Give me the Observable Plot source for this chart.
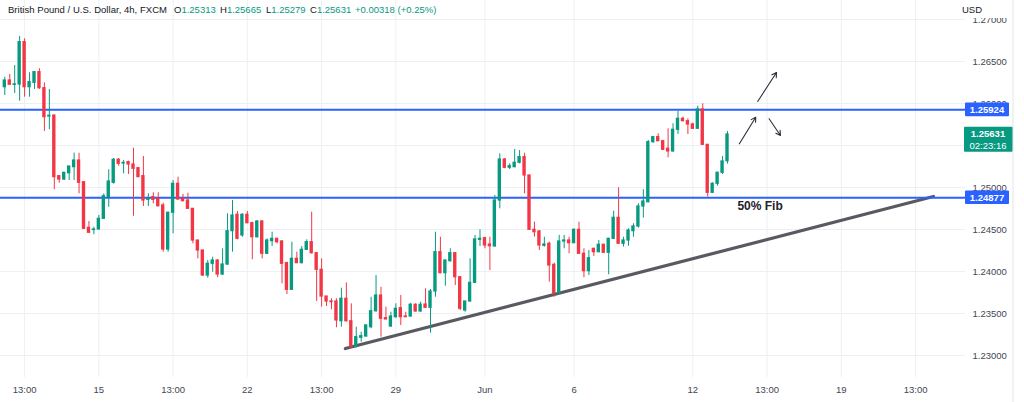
<!DOCTYPE html>
<html><head><meta charset="utf-8">
<script src="https://cdn.jsdelivr.net/npm/d3@7"></script>
<script src="https://cdn.jsdelivr.net/npm/@observablehq/plot@0.6"></script>
<style>
body{margin:0;background:#fff;font-family:"Liberation Sans",Arial,sans-serif;}
#wrap{position:relative;width:1024px;height:402px;overflow:hidden}
.hp{position:absolute;top:4px;font-size:9.5px;line-height:12px;color:#131722;white-space:nowrap}
.hp .v{color:#089981}
</style></head><body>
<div id="wrap"></div>
<script>
// ---- data (4h candles, GBP/USD FXCM) ----
const open = [1.26194,1.26274,1.26222,1.26226,1.26730,1.26194,1.26246,1.26373,1.26182,1.25845,
1.25857,1.25135,1.25095,1.25170,1.25242,1.25321,1.25063,1.24520,1.24494,1.24500,
1.24627,1.24885,1.25056,1.25330,1.25286,1.25302,1.25274,1.25230,1.25135,1.24853,
1.24885,1.24865,1.24786,1.24262,1.24699,1.25044,1.24865,1.24845,1.24746,1.24369,
1.24250,1.23952,1.24092,1.24131,1.23964,1.24083,1.24480,1.24675,1.24429,1.24675,
1.24575,1.24408,1.24595,1.24211,1.24361,1.24389,1.24357,1.24099,1.23782,1.24151,
1.24099,1.24258,1.24349,1.24218,1.24020,1.23702,1.23643,1.23643,1.23408,1.23675,
1.23408,1.23099,1.23211,1.23226,1.23337,1.23527,1.23714,1.23444,1.23345,1.23456,
1.23563,1.23464,1.23464,1.23604,1.23524,1.23607,1.23568,1.23762,1.24230,1.23980,
1.24123,1.24218,1.23932,1.23536,1.23643,1.23865,1.24377,1.24396,1.24321,1.24298,
1.24845,1.25333,1.25235,1.25242,1.25294,1.25361,1.25143,1.24496,1.24476,1.24306,
1.24330,1.24079,1.23742,1.24357,1.24369,1.24337,1.24496,1.24211,1.24004,1.24270,
1.24230,1.24318,1.24223,1.24389,1.24639,1.24330,1.24369,1.24480,1.24536,1.24774,
1.24825,1.25539,1.25599,1.25551,1.25461,1.25429,1.25687,1.25818,1.25789,1.25750,
1.25699,1.25929,1.25508,1.24937,1.25044,1.25175,1.25313];
const high = [1.26313,1.26345,1.26452,1.26798,1.26770,1.26365,1.26378,1.26413,1.26246,1.26167,
1.25857,1.25135,1.25175,1.25250,1.25408,1.25408,1.25063,1.24595,1.24527,1.24667,
1.24925,1.25211,1.25345,1.25345,1.25321,1.25313,1.25468,1.25230,1.25369,1.24925,
1.24937,1.24937,1.24813,1.24706,1.25083,1.25123,1.24917,1.24932,1.24746,1.24369,
1.24250,1.24131,1.24170,1.24140,1.24270,1.24687,1.24845,1.24714,1.24687,1.24714,
1.24587,1.24607,1.24607,1.24389,1.24468,1.24389,1.24369,1.24111,1.24349,1.24230,
1.24298,1.24377,1.24706,1.24218,1.24151,1.23702,1.23675,1.23675,1.23801,1.23865,
1.23615,1.23337,1.23277,1.23365,1.23694,1.23952,1.23813,1.23575,1.23515,1.23615,
1.23714,1.23515,1.23623,1.23615,1.23635,1.23794,1.23786,1.24468,1.24408,1.24135,
1.24270,1.24226,1.23932,1.23643,1.24151,1.24429,1.24496,1.24408,1.24408,1.24905,
1.25401,1.25345,1.25282,1.25452,1.25440,1.25408,1.25143,1.24587,1.24488,1.24408,
1.24349,1.24099,1.24429,1.24429,1.24408,1.24508,1.24587,1.24270,1.24250,1.24277,
1.24369,1.24325,1.24396,1.24718,1.24996,1.24408,1.24508,1.24568,1.24806,1.24973,
1.25560,1.25607,1.25639,1.25560,1.25699,1.25758,1.25905,1.25837,1.25818,1.25768,
1.25968,1.25996,1.25508,1.25056,1.25183,1.25369,1.25665];
const low = [1.26095,1.26220,1.26119,1.26027,1.26075,1.26075,1.26167,1.26167,1.25667,1.25687,
1.24973,1.25051,1.25083,1.25083,1.25083,1.24925,1.24508,1.24455,1.24437,1.24497,
1.24627,1.24765,1.25040,1.25254,1.25163,1.25155,1.24658,1.25120,1.24774,1.24774,
1.24806,1.24770,1.24230,1.24230,1.24449,1.24850,1.24830,1.24740,1.24330,1.24151,
1.23940,1.23920,1.23992,1.23925,1.23952,1.24071,1.24230,1.24377,1.24408,1.24568,
1.24139,1.24400,1.24151,1.24202,1.24298,1.24330,1.23854,1.23726,1.23774,1.24095,
1.24092,1.24250,1.24206,1.23643,1.23575,1.23583,1.23544,1.23330,1.23337,1.23396,
1.23092,1.23095,1.23158,1.23218,1.23318,1.23515,1.23218,1.23425,1.23337,1.23444,
1.23357,1.23452,1.23456,1.23515,1.23515,1.23565,1.23265,1.23694,1.23973,1.23825,
1.24111,1.23833,1.23536,1.23515,1.23635,1.23857,1.24298,1.24270,1.24012,1.24290,
1.24746,1.25223,1.25214,1.25235,1.25282,1.24925,1.24488,1.24408,1.24250,1.24290,
1.23873,1.23694,1.23734,1.24270,1.24211,1.24333,1.24202,1.23925,1.23952,1.24179,
1.24222,1.24214,1.23961,1.24381,1.24325,1.24290,1.24301,1.24408,1.24516,1.24635,
1.24817,1.25528,1.25547,1.25440,1.25354,1.25421,1.25631,1.25782,1.25631,1.25691,
1.25691,1.25500,1.24885,1.24929,1.25016,1.25155,1.25279];
const close = [1.26274,1.26223,1.26228,1.26730,1.26194,1.26254,1.26373,1.26182,1.25837,1.25854,
1.25123,1.25095,1.25175,1.25250,1.25321,1.25056,1.24508,1.24461,1.24500,1.24627,
1.24896,1.25071,1.25330,1.25282,1.25292,1.25274,1.25223,1.25123,1.24845,1.24861,
1.24853,1.24777,1.24262,1.24699,1.25044,1.24857,1.24837,1.24746,1.24369,1.24250,
1.23952,1.24092,1.24131,1.23964,1.24083,1.24480,1.24667,1.24389,1.24675,1.24575,
1.24408,1.24595,1.24211,1.24369,1.24389,1.24349,1.24092,1.23782,1.24151,1.24099,
1.24258,1.24349,1.24218,1.24020,1.23702,1.23643,1.23635,1.23417,1.23675,1.23408,
1.23099,1.23218,1.23230,1.23357,1.23527,1.23714,1.23437,1.23429,1.23464,1.23556,
1.23456,1.23456,1.23604,1.23524,1.23604,1.23568,1.23762,1.24230,1.23980,1.24131,
1.24218,1.23932,1.23556,1.23643,1.23865,1.24381,1.24389,1.24310,1.24301,1.24845,
1.25333,1.25235,1.25254,1.25294,1.25361,1.25143,1.24496,1.24468,1.24310,1.24321,
1.24071,1.23742,1.24357,1.24369,1.24337,1.24496,1.24211,1.24004,1.24158,1.24230,
1.24318,1.24223,1.24389,1.24639,1.24330,1.24369,1.24488,1.24536,1.24774,1.24833,
1.25539,1.25599,1.25551,1.25449,1.25429,1.25687,1.25818,1.25789,1.25750,1.25699,
1.25929,1.25508,1.24937,1.25044,1.25175,1.25310,1.25631];

const priceTicks = [1.23, 1.235, 1.24, 1.245, 1.25, 1.255, 1.26, 1.265, 1.27];
const hiddenTickLabels = [1.255]; // covered by the last-price box in the original
const timeTickIdx = [4, 19, 34, 49, 64, 79, 97, 115, 139, 154, 169, 184];
const timeTickLabels = ["13:00", "15", "13:00", "22", "13:00", "29", "Jun", "6", "12", "13:00", "19", "13:00"];
const levelValues = [1.25924, 1.24877];
const levelLabels = ["1.25924", "1.24877"];
const trendX = [68.8, 187.6];
const trendY = [1.23083, 1.24893];
const arrowX1 = [148.4, 152.1, 154.4];
const arrowY1 = [1.25520, 1.26024, 1.25818];
const arrowX2 = [151.7, 155.9, 156.7];
const arrowY2 = [1.25837, 1.26369, 1.25619];
const noteText = ["50% Fib"];
const noteX = [148.0];
const noteY = [1.24774];
const lastPrice = 1.25631;
const countdown = "02:23:16";
const headerTitle = "British Pound / U.S. Dollar, 4h, FXCM";
const headerKeys = ["O", "H", "L", "C", ""];
const headerVals = ["1.25313", "1.25665", "1.25279", "1.25631", "+0.00318 (+0.25%)"];

// ---- build ----
const GREEN = "#089981", RED = "#f23645";
const candles = open.map((o, i) => ({i, o, h: high[i], l: low[i], c: close[i]}));
const col = d => d.c >= d.o ? GREEN : RED;
const tickMap = new Map(timeTickIdx.map((t, k) => [t, timeTickLabels[k]]));
const arrows = arrowX1.map((x, k) => ({x1: x, y1: arrowY1[k], x2: arrowX2[k], y2: arrowY2[k]}));
const notes = noteText.map((t, k) => ({t, x: noteX[k], y: noteY[k]}));
const labelTicks = priceTicks.filter(v => !hiddenTickLabels.includes(v));

const chart = Plot.plot({
  width: 1024, height: 402,
  marginLeft: 0, marginRight: 59, marginTop: 0, marginBottom: 25,
  style: {fontFamily: "'Liberation Sans', Arial, sans-serif", fontSize: "9.5px", color: "#434651", background: "transparent", overflow: "visible"},
  x: {domain: [-0.869, 194.08]},
  y: {domain: [1.22738, 1.27226]},
  color: {type: "identity"},
  marks: [
    Plot.gridY(priceTicks, {stroke: "#eceff4", strokeOpacity: 1}),
    Plot.gridX(timeTickIdx, {stroke: "#eceff4", strokeOpacity: 1}),
    Plot.link([0], {x1: () => trendX[0], y1: () => trendY[0], x2: () => trendX[1], y2: () => trendY[1],
      stroke: "#505058", strokeWidth: 3.2, strokeLinecap: "round", strokeOpacity: 0.95}),
    Plot.ruleY(levelValues, {stroke: "#2962ff", strokeWidth: 2}),
    Plot.ruleX(candles, {x: "i", y1: "l", y2: "h", stroke: col, strokeWidth: 1}),
    Plot.rect(candles, {x1: d => d.i - 0.34, x2: d => d.i + 0.34,
      y1: d => Math.min(d.o, d.c), y2: d => Math.max(d.o, d.c), fill: col, insetTop: -0.6, insetBottom: -0.6}),
    Plot.arrow(arrows, {x1: "x1", y1: "y1", x2: "x2", y2: "y2", stroke: "#2a2e39", strokeWidth: 1.1, headLength: 7}),
    Plot.text(notes, {x: "x", y: "y", text: "t", textAnchor: "start", fontSize: 12, fontWeight: "bold", fill: "#1e222d"}),
    Plot.axisY(labelTicks, {anchor: "right", tickSize: 0, tickPadding: 7, tickFormat: d3.format(".5f"), fill: "#434651"}),
    Plot.axisX(timeTickIdx, {anchor: "bottom", tickSize: 0, tickPadding: 9, tickFormat: d => tickMap.get(d), fill: "#434651"})
  ]
});

const wrap = document.getElementById("wrap");
wrap.appendChild(chart);

// header overlay (legend row)
const headerLeft = [8, 174, 220, 266, 310, 355];
const mk = (html, left) => {
  const s = document.createElement("div");
  s.className = "hp"; s.style.left = left + "px"; s.innerHTML = html;
  wrap.appendChild(s); return s;
};
const t = mk(headerTitle, headerLeft[0]);
const tw = t.getBoundingClientRect().width;
const targetW = 159;
t.style.letterSpacing = ((targetW - tw) / headerTitle.length).toFixed(3) + "px";
headerKeys.forEach((k, j) => mk(`${k}<span class="v">${headerVals[j]}</span>`, headerLeft[j + 1]));

// price-scale labels
const svg = d3.select(chart);
const ys = chart.scale("y");
const xr = chart.scale("x").range[1];
const g = svg.append("g").attr("font-family", "'Liberation Sans', Arial, sans-serif").attr("font-size", "9.5px");
g.append("rect").attr("x", xr).attr("y", 0).attr("width", 47).attr("height", 18).attr("fill", "#fff");
g.append("text").attr("x", xr + 7).attr("y", 10).attr("dy", "0.35em").attr("fill", "#131722").text("USD");
g.append("line").attr("x1", 1013).attr("x2", 1013).attr("y1", 0).attr("y2", 402).attr("stroke", "#e0e3eb");
levelValues.forEach((v, k) => {
  const y = ys.apply(v);
  g.append("rect").attr("x", xr).attr("y", y - 6.8).attr("width", 44).attr("height", 13.6).attr("fill", "#2962ff").attr("rx", 1);
  g.append("text").attr("x", xr + 22).attr("y", y).attr("dy", "0.35em").attr("text-anchor", "middle")
    .attr("fill", "#fff").attr("font-weight", "bold").text(levelLabels[k]);
});
{
  const y = ys.apply(lastPrice);
  g.append("rect").attr("x", xr - 1).attr("y", y - 7.3).attr("width", 48.5).attr("height", 25).attr("fill", GREEN).attr("rx", 1);
  g.append("text").attr("x", xr + 23).attr("y", y).attr("dy", "0.35em").attr("text-anchor", "middle")
    .attr("fill", "#fff").attr("font-weight", "bold").text(d3.format(".5f")(lastPrice));
  g.append("text").attr("x", xr + 23).attr("y", y + 11.5).attr("dy", "0.35em").attr("text-anchor", "middle")
    .attr("fill", "#fff").text(countdown);
}
</script>
</body></html>
